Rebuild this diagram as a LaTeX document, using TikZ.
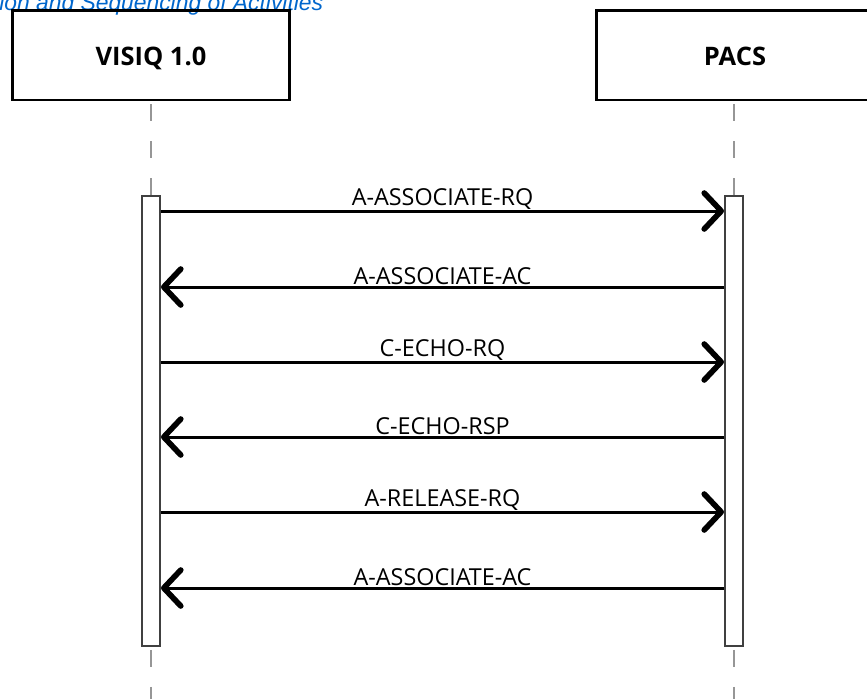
\documentclass[tikz,border=0pt]{standalone}
\usepackage{fontspec}
\setmainfont{Open Sans}
\newfontfamily\captionfont{Liberation Sans}
\usetikzlibrary{arrows.meta,positioning}

\definecolor{captionblue}{RGB}{0,102,204}
\definecolor{lifegray}{RGB}{150,150,150}

\tikzset{
  actor/.style={draw, line width=1.7pt, minimum width=5.56cm, minimum height=1.8cm,
    text height=1.45em, text depth=0.25em, font=\bfseries\fontsize{14.5}{16}\selectfont},
  activation/.style={draw=black!75, line width=1.1pt, fill=white,
    minimum width=0.36cm, minimum height=9cm, inner sep=0pt},
  lifeline/.style={lifegray, line width=1.1pt, dash pattern=on 0.34cm off 0.4cm, dash phase=0.68cm},
  msg/.style={line width=1.7pt, -{Straight Barb[length=0.34cm, width=0.72cm, line width=3.2pt, round]}},
  msglabel/.style={font=\fontsize{13.3}{15}\selectfont, above=0.2pt, inner sep=0pt}
}

\begin{document}
\begin{tikzpicture}[x=0.02cm, y=-0.02cm]
    \clip (0,0) rectangle (867,698);
    \node[anchor=base west, inner sep=0pt, text=captionblue,
          font=\captionfont\itshape\fontsize{13}{15}\selectfont] (caption) at (-1,10) {ion and Sequencing of Activities};
    % actors
    \node[actor] (visiq) at (151,55) {VISIQ 1.0};
    \node[actor] (pacs) at (735,55) {PACS};
    % activations
    \node[activation] (actL) at (151,421) {};
    \node[activation] (actR) at (734,421) {};
    % lifelines
    \draw[lifeline] (visiq.south) -- (actL.north);
    \draw[lifeline] (pacs.south -| actR) -- (actR.north);
    \draw[lifeline] (actL.south) -- (actL |- 0,720);
    \draw[lifeline] (actR.south) -- (actR |- 0,720);
    % messages
    \foreach \y/\txt in {211/A-ASSOCIATE-RQ, 362/C-ECHO-RQ, 512/A-RELEASE-RQ}
        \draw[msg] (actL.east |- 0,\y) -- node[msglabel] {\txt} (actR.west |- 0,\y);
    \foreach \y/\txt in {287/A-ASSOCIATE-AC, 437/C-ECHO-RSP, 588/A-ASSOCIATE-AC}
        \draw[msg] (actR.west |- 0,\y) -- node[msglabel] {\txt} (actL.east |- 0,\y);
\end{tikzpicture}
\end{document}
